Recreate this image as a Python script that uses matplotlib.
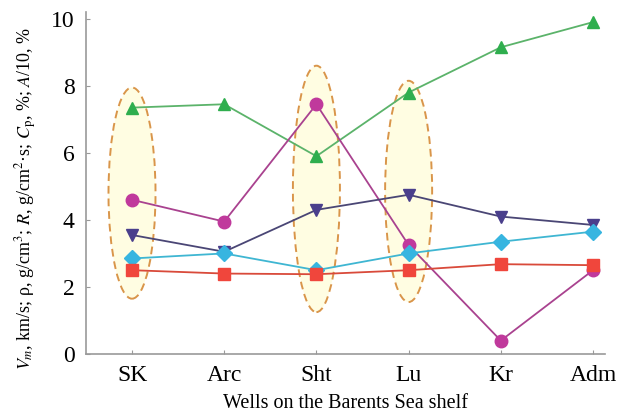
import numpy as np
import matplotlib.pyplot as plt
from matplotlib.patches import Ellipse

wells = ['SK', 'Arc', 'Sht', 'Lu', 'Kr', 'Adm']

A_vals = [7.35, 7.45, 5.9, 7.8, 9.15, 9.9]
Cp_vals = [4.6, 3.95, 7.45, 3.25, 0.4, 2.5]
R_vals = [3.55, 3.05, 4.3, 4.75, 4.1, 3.85]
Vm_vals = [2.85, 3.0, 2.5, 3.0, 3.35, 3.65]
rho_vals = [2.5, 2.4, 2.38, 2.5, 2.68, 2.65]

# highlighted wells: (index, bottom, top)
highlight_idx = [0, 2, 3]
highlight_lo = [1.65, 1.25, 1.55]
highlight_hi = [7.95, 8.6, 8.15]

plt.rcParams['font.family'] = ['Liberation Serif', 'DejaVu Serif']
plt.rcParams['mathtext.fontset'] = 'stix'

fig = plt.figure(figsize=(6.18, 4.16), dpi=100)
ax = fig.add_axes([0.139, 0.149, 0.84, 0.822])

x = np.arange(len(wells))

for i, lo, hi in zip(highlight_idx, highlight_lo, highlight_hi):
    e = Ellipse((x[i], (lo + hi) / 2), 0.51, hi - lo, facecolor='#fffde2',
                edgecolor='#d9954a', linestyle=(0, (4, 2.5)), lw=1.4, zorder=1)
    ax.add_patch(e)

ax.plot(x, A_vals, '-^', color='#5bb36a', mfc='#2fae4e', mec='#2fae4e', ms=9, lw=1.3, zorder=3)
ax.plot(x, Cp_vals, '-o', color='#a9428f', mfc='#c0399c', mec='#c0399c', ms=9, lw=1.3, zorder=3)
ax.plot(x, R_vals, '-v', color='#4a4675', mfc='#4a3f8c', mec='#4a3f8c', ms=9, lw=1.3, zorder=3)
ax.plot(x, Vm_vals, '-D', color='#3fb6d2', mfc='#37b5e0', mec='#37b5e0', ms=8, lw=1.3, zorder=3)
ax.plot(x, rho_vals, '-s', color='#d94a3a', mfc='#f0463c', mec='#f0463c', ms=8, lw=1.3, zorder=3)

ax.set_xlim(-0.5, 5.13)
ax.set_ylim(0, 10.2)
ax.set_xticks(x)
ax.set_xticklabels(wells)
ax.set_yticks([0, 2, 4, 6, 8, 10])

for s in ['top', 'right']:
    ax.spines[s].set_visible(False)
for s in ['left', 'bottom']:
    ax.spines[s].set_color('#999999')
    ax.spines[s].set_linewidth(1.2)
ax.tick_params(direction='in', length=3, color='#999999', labelsize=17, pad=8)

ax.set_xlabel('Wells on the Barents Sea shelf', fontsize=14.5, labelpad=6)
ax.set_ylabel(r'$V_m$, km/s; ρ, g/cm$^3$; $R$, g/cm$^2$·s; $C_\mathrm{p}$, %; $A$/10, %',
              fontsize=13)
ax.yaxis.set_label_coords(-0.09, 0.455)

fig.savefig('out.png', dpi=100)
